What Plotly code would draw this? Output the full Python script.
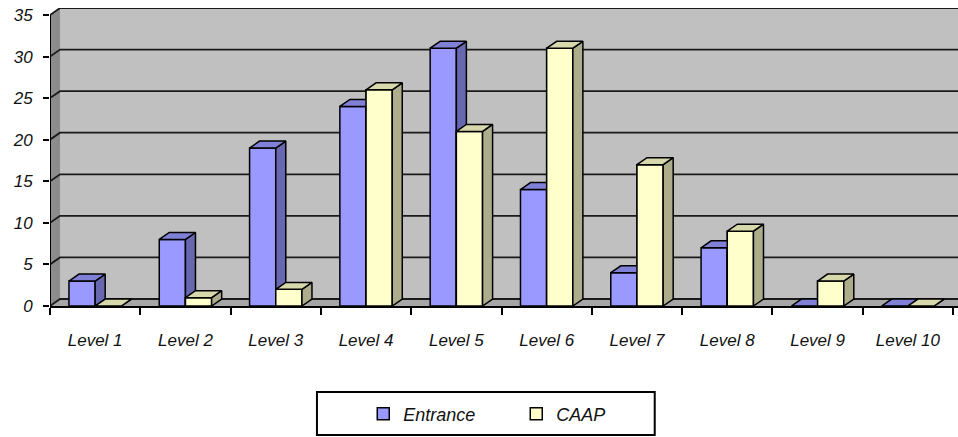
import plotly.graph_objects as go

# ---- data ----
categories = ["Level 1", "Level 2", "Level 3", "Level 4", "Level 5",
              "Level 6", "Level 7", "Level 8", "Level 9", "Level 10"]
entrance = [3, 8, 19, 24, 31, 14, 4, 7, 0, 0]
caap = [0, 1, 2, 26, 21, 31, 17, 9, 3, 0]
y_ticks = [0, 5, 10, 15, 20, 25, 30, 35]

# ---- style constants ----
BAR_W = 0.29          # width of each bar (in category units)
DX = 0.111            # 3-D depth offset in x (category units)
DY = 0.84             # 3-D depth offset in y (value units)
X_MAX = 10.055
FAM = "Liberation Sans, Arial, sans-serif"
XFONT = dict(family=FAM, size=17, color="#111111", style="italic")
YFONT = dict(family=FAM, size=17, color="#111111", style="italic")
LFONT = dict(family=FAM, size=18, color="#111111", style="italic")

E_FRONT, E_TOP, E_SIDE = "#9999ff", "#8080d6", "#6868b0"
C_FRONT, C_TOP, C_SIDE = "#ffffcc", "#d8d8ad", "#adad8c"
WALL, LWALL, FLOOR = "#c0c0c0", "#8c8c8c", "#a6a6a6"

n = len(categories)
centers = [i + 0.5 for i in range(n)]
ymax = max(y_ticks)


def faces(x0, vals):
    """Build side/top/front polygons (None separated) for bars starting at x0."""
    side_x, side_y, top_x, top_y, fr_x, fr_y = [], [], [], [], [], []
    for xs, v in zip(x0, vals):
        x1 = xs + BAR_W
        side_x += [x1, x1 + DX, x1 + DX, x1, x1, None]
        side_y += [0, DY, v + DY, v, 0, None]
        top_x += [xs, x1, x1 + DX, xs + DX, xs, None]
        top_y += [v, v, v + DY, v + DY, v, None]
        fr_x += [xs, x1, x1, xs, xs, None]
        fr_y += [0, 0, v, v, 0, None]
    return side_x, side_y, top_x, top_y, fr_x, fr_y


e_x0 = [c - BAR_W for c in centers]
c_x0 = list(centers)
e_side_x, e_side_y, e_top_x, e_top_y, _, _ = faces(e_x0, entrance)
c_side_x, c_side_y, c_top_x, c_top_y, c_fr_x, c_fr_y = faces(c_x0, caap)

fig = go.Figure()
outline = dict(color="black", width=1.5)

fig.add_trace(go.Bar(x=centers, y=entrance, name="Entrance", width=BAR_W,
                     offset=-BAR_W, marker=dict(color=E_FRONT, line=outline)))
fig.add_trace(go.Bar(x=centers, y=caap, name="CAAP", width=BAR_W,
                     offset=0, marker=dict(color=C_FRONT, line=outline)))


def poly(xs, ys, color):
    fig.add_trace(go.Scatter(x=xs, y=ys, mode="lines", fill="toself",
                             fillcolor=color, line=dict(color="black", width=1.5),
                             showlegend=False, hoverinfo="skip"))


poly(e_side_x, e_side_y, E_SIDE)
poly(e_top_x, e_top_y, E_TOP)
poly(c_fr_x, c_fr_y, C_FRONT)
poly(c_side_x, c_side_y, C_SIDE)
poly(c_top_x, c_top_y, C_TOP)

# walls, floor and gridlines (below traces)
shapes = []
shapes.append(dict(type="rect", xref="x", yref="y", x0=DX, x1=X_MAX + 1,
                   y0=DY, y1=ymax + DY, fillcolor=WALL, line=dict(width=0),
                   layer="below"))
shapes.append(dict(type="path", xref="x", yref="y",
                   path=f"M0,0 L{DX},{DY} L{DX},{ymax + DY} L0,{ymax} Z",
                   fillcolor=LWALL, line=dict(width=0), layer="below"))
shapes.append(dict(type="path", xref="x", yref="y",
                   path=f"M0,0 L{X_MAX + 1},0 L{X_MAX + 1},{DY} L{DX},{DY} Z",
                   fillcolor=FLOOR, line=dict(width=0), layer="below"))
for t in y_ticks:
    shapes.append(dict(type="path", xref="x", yref="y",
                       path=f"M0,{t} L{DX},{t + DY} L{X_MAX + 1},{t + DY}",
                       line=dict(color="#1a1a1a", width=1.8), layer="below"))
# vertical axis line
shapes.append(dict(type="line", xref="x", yref="y", x0=0, x1=0, y0=0, y1=ymax,
                   line=dict(color="black", width=2), layer="above"))
# legend frame
shapes.append(dict(type="rect", xref="paper", yref="paper",
                   x0=0.294, x1=0.666, y0=-0.4329, y1=-0.2886,
                   fillcolor="white", line=dict(color="black", width=2),
                   layer="below"))

fig.update_layout(
    width=958, height=437,
    margin=dict(l=50, r=0, t=8, b=131),
    paper_bgcolor="white", plot_bgcolor="white",
    barmode="overlay",
    shapes=shapes,
    showlegend=True,
    legend=dict(orientation="h", x=0.345, xanchor="left", y=-0.3624,
                yanchor="middle", borderwidth=0, bgcolor="rgba(0,0,0,0)",
                font=LFONT, entrywidth=108),
    xaxis=dict(range=[0, X_MAX], tickmode="array", tickvals=centers,
               ticktext=categories, ticks="", showgrid=False, zeroline=False,
               showline=True, linecolor="black", linewidth=2, automargin=False,
               tickfont=XFONT, ticklabelstandoff=18,
               minor=dict(tickmode="array", tickvals=list(range(n + 1)),
                          ticks="outside", ticklen=7, tickwidth=2,
                          tickcolor="black", showgrid=False)),
    yaxis=dict(range=[0, ymax + DY], tickmode="array", tickvals=y_ticks,
               ticks="outside", ticklen=6, tickwidth=2, tickcolor="black",
               showgrid=False, zeroline=False, showline=False, automargin=False,
               tickfont=YFONT, ticklabelstandoff=7),
)

fig.write_html("out.html")
